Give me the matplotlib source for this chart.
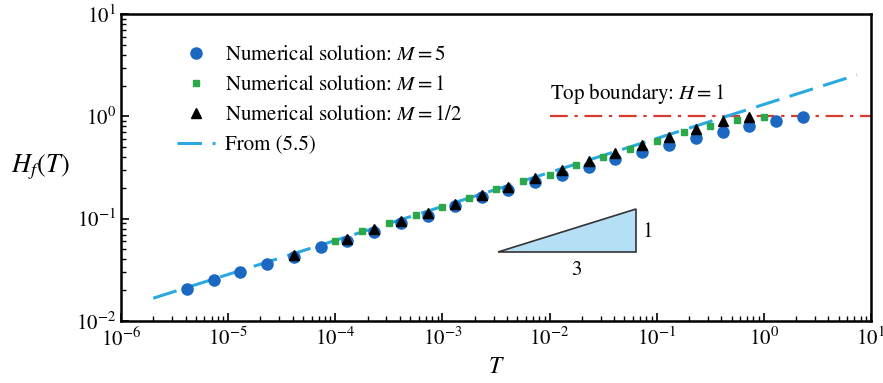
import matplotlib
matplotlib.use("Agg")
import matplotlib.pyplot as plt

# numerical solutions
T_m5 = [4.12e-6, 7.33e-6, 1.30e-5, 2.32e-5, 4.12e-5, 7.33e-5, 1.30e-4, 2.32e-4,
        4.12e-4, 7.33e-4, 1.30e-3, 2.32e-3, 4.12e-3, 7.33e-3, 1.30e-2, 2.32e-2,
        4.12e-2, 7.33e-2, 0.130, 0.232, 0.412, 0.733, 1.30, 2.32]
H_m5 = [0.0204, 0.0252, 0.0303, 0.0358, 0.0423, 0.0525, 0.0605, 0.0741,
        0.0897, 0.107, 0.133, 0.162, 0.189, 0.229, 0.270, 0.320,
        0.384, 0.452, 0.525, 0.611, 0.705, 0.80, 0.90, 0.99]

T_m1 = [1.0e-4, 1.78e-4, 3.16e-4, 5.62e-4, 1.0e-3, 1.78e-3, 3.16e-3, 5.62e-3,
        1.0e-2, 1.78e-2, 3.16e-2, 5.62e-2, 0.1, 0.178, 0.316, 0.562, 1.0]
H_m1 = [0.061, 0.0764, 0.0902, 0.109, 0.131, 0.160, 0.193, 0.232,
        0.270, 0.331, 0.401, 0.482, 0.575, 0.70, 0.81, 0.92, 0.99]

T_mhalf = [4.12e-5, 1.30e-4, 2.32e-4, 4.12e-4, 7.33e-4, 1.30e-3, 2.32e-3, 4.12e-3,
           7.33e-3, 1.30e-2, 2.32e-2, 4.12e-2, 7.33e-2, 0.130, 0.232, 0.412, 0.733]
H_mhalf = [0.0441, 0.0638, 0.0787, 0.0955, 0.1145, 0.1377, 0.169, 0.206,
           0.248, 0.299, 0.366, 0.438, 0.52, 0.622, 0.745, 0.895, 0.99]

# asymptotic line from (5.5), endpoints
T_line = [2.0e-6, 7.4]
H_line = [0.0167, 2.54]

# top boundary
T_top = [1e-2, 1e1]
H_top = [1.0, 1.0]

# slope triangle
tri_T = [3.33e-3, 6.4e-2, 6.4e-2]
tri_H = [0.0475, 0.0475, 0.125]

plt.rcParams['font.family'] = ['STIXGeneral', 'DejaVu Serif']
plt.rcParams['mathtext.fontset'] = 'stix'
plt.rcParams['font.size'] = 15

fig = plt.figure(figsize=(8.83, 3.83), dpi=100)
ax = fig.add_axes([121 / 883, 62 / 383, 750 / 883, 307 / 383])

ax.plot(T_top, H_top, color='#d63b30', lw=1.6, dashes=(8, 3, 1.5, 3), zorder=2)
ax.plot(T_line, H_line, color='#2aa9e0', lw=2.2, dashes=(8, 3.5), zorder=3,
        label='From (5.5)')
ax.plot(T_m5, H_m5, 'o', color='#1a68c2', ms=8, zorder=4,
        label=r'Numerical solution: $M=5$')
ax.plot(T_m1, H_m1, 's', color='#2ba84a', ms=5, zorder=5,
        label=r'Numerical solution: $M=1$')
ax.plot(T_mhalf, H_mhalf, '^', color='black', ms=6.5, zorder=6,
        label=r'Numerical solution: $M=1/2$')

ax.fill(tri_T, tri_H, facecolor='#b5dff4', edgecolor='#333333', lw=1.2, zorder=2)
ax.text(0.083, 0.074, '1', ha='center', va='center')
ax.text(0.0177, 0.0315, '3', ha='center', va='center')
ax.text(1e-2, 1.68, r'Top boundary: $H=1$', ha='left', va='center')

ax.set_xscale('log')
ax.set_yscale('log')
ax.set_xlim(1e-6, 1e1)
ax.set_ylim(1e-2, 1e1)

ax.tick_params(which='both', direction='in', top=False, right=False)
ax.tick_params(which='major', length=6, width=1.2, labelsize=15)
ax.tick_params(which='minor', length=3.5, width=1.0)
ax.tick_params(axis='x', which='major', pad=5)
for s in ax.spines.values():
    s.set_linewidth(1.8)

ax.set_xlabel(r'$T$', fontsize=17, labelpad=4)
ax.set_ylabel(r'$H_f(T)$', fontsize=19, rotation=0, labelpad=26, va='center')

handles, labels = ax.get_legend_handles_labels()
order = [1, 2, 3, 0]
ax.legend([handles[i] for i in order], [labels[i] for i in order],
          loc='upper left', bbox_to_anchor=(0.05, 0.96), frameon=False,
          handlelength=1.8, handletextpad=0.5, labelspacing=0.5, fontsize=15)

fig.savefig('out.png', dpi=100)
